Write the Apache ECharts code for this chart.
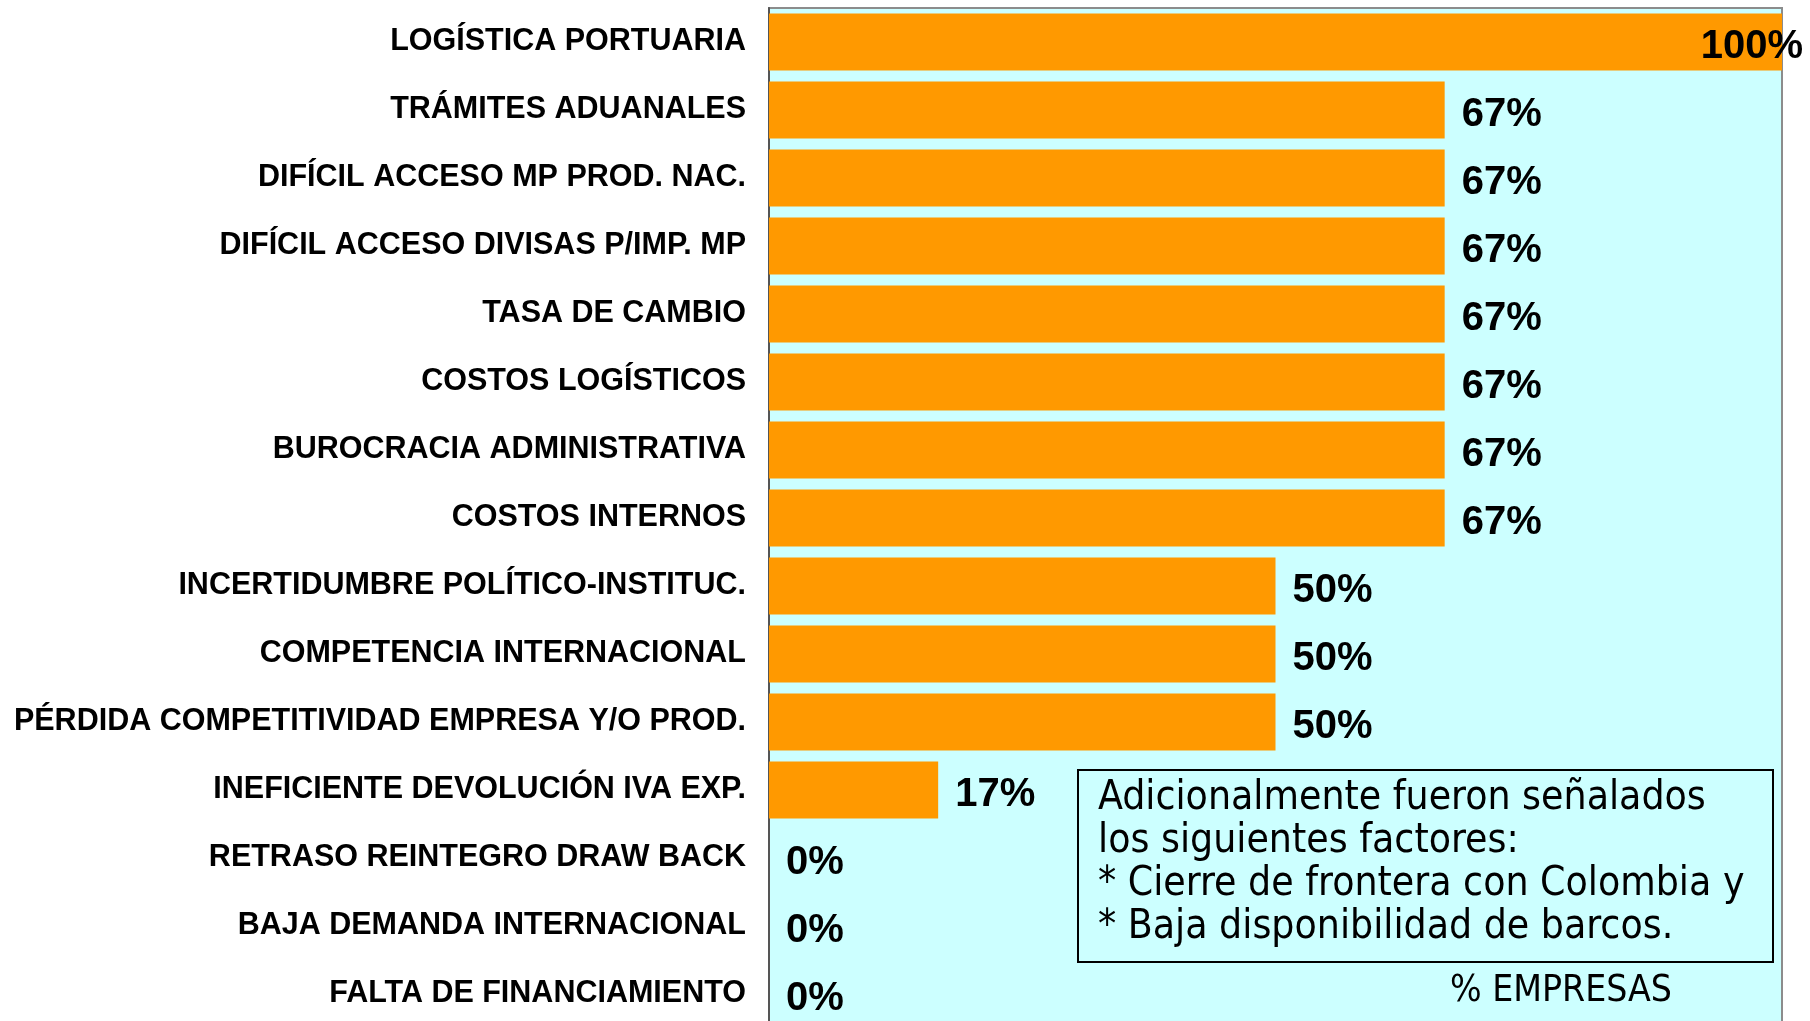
<!DOCTYPE html>
<html>
<head>
<meta charset="utf-8">
<script src="https://cdn.jsdelivr.net/npm/echarts@6/dist/echarts.min.js"></script>
<style>
  html, body { margin: 0; padding: 0; background: #fff; }
  #chart { width: 1810px; height: 1021px; }
</style>
</head>
<body>
<div id="chart"></div>
<script>
  // factores que afectan la exportación
  var factores = [
    'LOGÍSTICA PORTUARIA',
    'TRÁMITES ADUANALES',
    'DIFÍCIL ACCESO MP PROD. NAC.',
    'DIFÍCIL ACCESO DIVISAS P/IMP. MP',
    'TASA DE CAMBIO',
    'COSTOS LOGÍSTICOS',
    'BUROCRACIA ADMINISTRATIVA',
    'COSTOS INTERNOS',
    'INCERTIDUMBRE POLÍTICO-INSTITUC.',
    'COMPETENCIA INTERNACIONAL',
    'PÉRDIDA COMPETITIVIDAD EMPRESA Y/O PROD.',
    'INEFICIENTE DEVOLUCIÓN IVA EXP.',
    'RETRASO REINTEGRO DRAW BACK',
    'BAJA DEMANDA INTERNACIONAL',
    'FALTA DE FINANCIAMIENTO'
  ];
  // % de empresas
  var porcentajes = [100, 66.7, 66.7, 66.7, 66.7, 66.7, 66.7, 66.7, 50, 50, 50, 16.7, 0, 0, 0];

  var notaLineas = [
    'Adicionalmente fueron señalados',
    'los siguientes factores:',
    '* Cierre de frontera con Colombia y',
    '* Baja disponibilidad de barcos.'
  ];

  var datos = porcentajes.map(function (v, i) {
    var item = { value: v };
    if (i === 0) {
      // la etiqueta del 100% queda dentro de la barra
      item.label = { position: 'insideRight', offset: [38, 5] };
    }
    return item;
  });

  var myChart = echarts.init(document.getElementById('chart'));
  myChart.setOption({
    animation: false,
    backgroundColor: '#ffffff',
    grid: {
      left: 769,
      right: 28,
      top: 8,
      bottom: -7,
      containLabel: false,
      outerBoundsMode: 'none',
      show: true,
      backgroundColor: '#CCFFFF',
      borderColor: '#8c8c8c',
      borderWidth: 2
    },
    xAxis: {
      type: 'value',
      min: 0,
      max: 100,
      show: false
    },
    yAxis: {
      type: 'category',
      inverse: true,
      data: factores,
      axisLine: { lineStyle: { color: '#555', width: 2 } },
      axisTick: { length: 11, lineStyle: { color: '#555', width: 2 } },
      axisLabel: {
        margin: 23,
        padding: [4, 0, 0, 0],
        color: '#000',
        fontFamily: "'Liberation Sans', Arial, sans-serif",
        fontWeight: 'bold',
        fontSize: 30.5
      }
    },
    series: [{
      type: 'bar',
      data: datos,
      barCategoryGap: '16%',
      itemStyle: { color: '#FF9900' },
      label: {
        show: true,
        position: 'right',
        distance: 17,
        offset: [0, 5],
        color: '#000',
        fontFamily: "'Liberation Sans', Arial, sans-serif",
        fontWeight: 'bold',
        fontSize: 40,
        formatter: function (p) { return Math.round(p.value) + '%'; }
      }
    }],
    graphic: [{
      type: 'rect',
      shape: { x: 1078, y: 770, width: 695, height: 192 },
      style: { fill: '#CCFFFF', stroke: '#000', lineWidth: 2 }
    }, {
      type: 'text',
      x: 1098,
      y: 777,
      style: {
        text: notaLineas.join('\n'),
        font: "40.5px 'DejaVu Sans Condensed', 'DejaVu Sans', sans-serif",
        lineHeight: 42.9,
        fill: '#000'
      }
    }, {
      type: 'text',
      x: 1450,
      y: 991,
      style: {
        text: '% EMPRESAS',
        font: "37px 'DejaVu Sans Condensed', 'DejaVu Sans', sans-serif",
        verticalAlign: 'middle',
        fill: '#000'
      }
    }]
  });
</script>
</body>
</html>
